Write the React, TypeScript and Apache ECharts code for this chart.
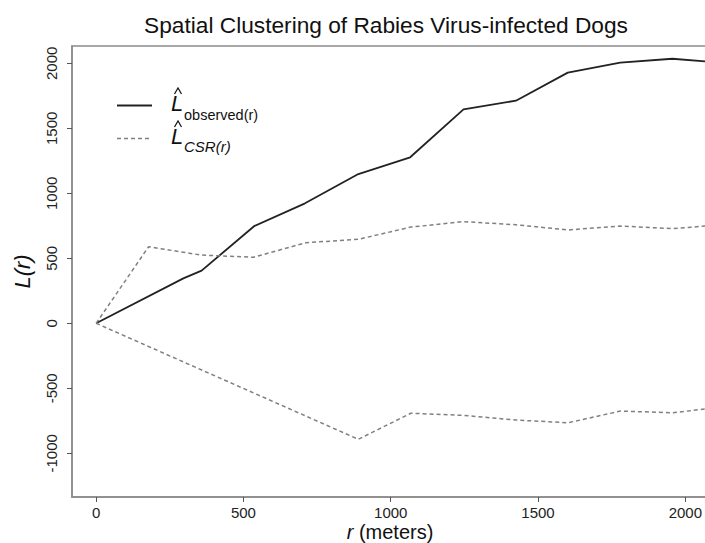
import React, { useEffect, useRef } from "react";
import * as echarts from "echarts";

const titleText = "Spatial Clustering of Rabies Virus-infected Dogs";
const xTicks = [0, 500, 1000, 1500, 2000];
const yTicks = [-1000, -500, 0, 500, 1000, 1500, 2000];

const rObserved = [0, 296, 358, 536, 709, 890, 1066, 1247, 1425, 1601, 1779, 1956, 2067];
const lObserved = [0, 346, 405, 747, 923, 1148, 1277, 1646, 1712, 1928, 2005, 2035, 2015];

const rCsrUpper = [0, 178, 356, 534, 712, 890, 1068, 1246, 1424, 1602, 1780, 1958, 2067];
const lCsrUpper = [0, 589, 525, 508, 620, 646, 740, 782, 758, 718, 748, 728, 748];

const rCsrLower = [0, 890, 1068, 1246, 1424, 1602, 1780, 1958, 2067];
const lCsrLower = [0, -892, -692, -708, -744, -765, -675, -688, -659];

const FONT = "'Liberation Sans', Arial, Helvetica, sans-serif";
const BOX = "#8a8a8a";

function pairs(xs: number[], ys: number[]) {
  return xs.map((x, i) => [x, ys[i]]);
}

function hat(cx: number, topY: number) {
  return {
    type: "polyline",
    shape: { points: [[cx - 3.5, topY + 6], [cx, topY], [cx + 3.5, topY + 6]] },
    style: { stroke: "#111", lineWidth: 1.2, fill: "none" },
  };
}

export default function App() {
  const ref = useRef<HTMLDivElement>(null);
  useEffect(() => {
    if (!ref.current) return;
    const chart = echarts.init(ref.current, null, { renderer: "svg" });
    chart.setOption({
      animation: false,
      backgroundColor: "#fff",
      textStyle: { fontFamily: FONT },
      grid: {
        left: 72,
        right: -3,
        top: 46,
        bottom: 46,
        show: true,
        borderColor: BOX,
        borderWidth: 1.5,
        containLabel: false,
        outerBoundsMode: "none",
      },
      xAxis: {
        type: "value",
        min: -82,
        max: 2077,
        name: "{i|r} (meters)",
        nameLocation: "middle",
        nameGap: 25,
        nameMoveOverlap: false,
        nameTextStyle: {
          fontSize: 20,
          color: "#111",
          fontFamily: FONT,
          rich: { i: { fontStyle: "italic", fontSize: 20, color: "#111", fontFamily: FONT } },
        },
        axisLine: { show: true, onZero: false, lineStyle: { color: BOX, width: 1.5 } },
        axisTick: { show: true, customValues: xTicks, length: 5, lineStyle: { color: "#555", width: 1 } },
        axisLabel: {
          customValues: xTicks,
          fontSize: 15,
          color: "#222",
          margin: 8,
          fontFamily: FONT,
          formatter: (v: number) => String(v),
        },
        splitLine: { show: false },
      },
      yAxis: {
        type: "value",
        min: -1336,
        max: 2133,
        name: "L(r)",
        nameLocation: "middle",
        nameGap: 39,
        nameMoveOverlap: false,
        nameRotate: 90,
        nameTextStyle: { fontSize: 22, color: "#111", fontStyle: "italic", fontFamily: FONT },
        axisLine: { show: true, onZero: false, lineStyle: { color: BOX, width: 1.5 } },
        axisTick: { show: true, customValues: yTicks, length: 5, lineStyle: { color: "#555", width: 1 } },
        axisLabel: {
          customValues: yTicks,
          fontSize: 15,
          color: "#222",
          rotate: 90,
          margin: 13,
          fontFamily: FONT,
          formatter: (v: number) => String(v),
        },
        splitLine: { show: false },
      },
      series: [
        {
          type: "line",
          data: pairs(rObserved, lObserved),
          showSymbol: false,
          lineStyle: { color: "#222", width: 1.8 },
        },
        {
          type: "line",
          data: pairs(rCsrUpper, lCsrUpper),
          showSymbol: false,
          lineStyle: { color: "#808080", width: 1.5, type: [4, 3] },
        },
        {
          type: "line",
          data: pairs(rCsrLower, lCsrLower),
          showSymbol: false,
          lineStyle: { color: "#808080", width: 1.5, type: [4, 3] },
        },
      ],
      graphic: [
        {
          type: "text",
          x: 386,
          y: 25,
          style: {
            text: titleText,
            fontSize: 22.7,
            fontFamily: FONT,
            fill: "#111",
            textAlign: "center",
            textVerticalAlign: "middle",
          },
        },
        { type: "line", shape: { x1: 117, y1: 105.5, x2: 152, y2: 105.5 }, style: { stroke: "#222", lineWidth: 2 } },
        { type: "line", shape: { x1: 117, y1: 138.5, x2: 152, y2: 138.5 }, style: { stroke: "#808080", lineWidth: 1.5, lineDash: [4, 3] } },
        { type: "text", x: 171, y: 114, style: { text: "L", fontSize: 22, fontStyle: "italic", fontFamily: FONT, fill: "#111", textVerticalAlign: "bottom" } },
        hat(178, 88),
        { type: "text", x: 184, y: 115, style: { text: "observed(r)", fontSize: 14.5, fontFamily: FONT, fill: "#111", textVerticalAlign: "middle" } },
        { type: "text", x: 171, y: 147, style: { text: "L", fontSize: 22, fontStyle: "italic", fontFamily: FONT, fill: "#111", textVerticalAlign: "bottom" } },
        hat(178, 121),
        { type: "text", x: 184, y: 146, style: { text: "CSR(r)", fontSize: 15, fontStyle: "italic", fontFamily: FONT, fill: "#111", textVerticalAlign: "middle" } },
      ],
    });
    return () => chart.dispose();
  }, []);
  return <div ref={ref} style={{ width: 705, height: 543, position: "absolute", left: 0, top: 0 }} />;
}
